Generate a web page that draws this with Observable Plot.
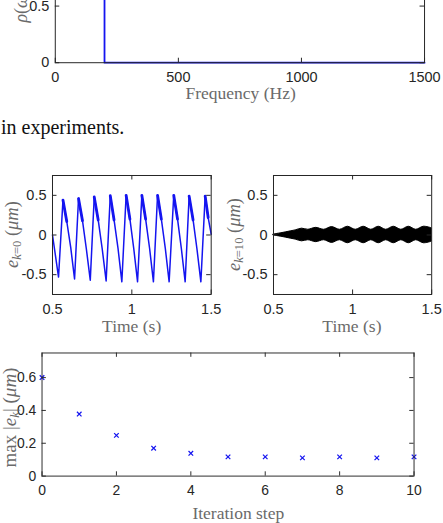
<!DOCTYPE html>
<html>
<head>
<meta charset="utf-8">
<script src="https://cdn.jsdelivr.net/npm/d3@7"></script>
<script src="https://cdn.jsdelivr.net/npm/@observablehq/plot@0.6"></script>
<style>
  body { margin: 0; background: #fff; }
  #fig { position: relative; width: 443px; height: 523px; overflow: hidden; background: #fff; }
  #fig > svg { position: absolute; }
</style>
</head>
<body>
<div id="fig"></div>
<script>
// ---- Weighting function rho(omega) ----
const freqHz = [0, 200, 200, 1500];
const rho = [1, 1, 0, 0];
const freqTicks = [0, 500, 1000, 1500];
const rhoTicks = [0, 0.5, 1];

// ---- Tracking error at iteration 0 (vertices of the trace) ----
const tK0 = [0.500, 0.538, 0.566, 0.590, 0.615, 0.639, 0.664, 0.689, 0.713, 0.738, 0.763, 0.788, 0.813,
             0.838, 0.864, 0.888, 0.913, 0.937, 0.964, 0.988, 1.012, 1.036, 1.063, 1.087, 1.112, 1.136,
             1.162, 1.186, 1.211, 1.235, 1.264, 1.288, 1.312, 1.336, 1.361, 1.386, 1.410, 1.435, 1.462,
             1.481, 1.500];
const eK0 = [0.00, -0.53, 0.44, 0.17, -0.16, -0.555, 0.46, 0.18, -0.17, -0.57, 0.48, 0.19, -0.17,
             -0.58, 0.495, 0.19, -0.17, -0.59, 0.50, 0.20, -0.17, -0.59, 0.50, 0.20, -0.17, -0.59,
             0.50, 0.20, -0.17, -0.59, 0.50, 0.20, -0.17, -0.59, 0.49, 0.19, -0.17, -0.59, 0.49,
             0.22, 0.01];

// ---- Tracking error at iteration 10 (envelope half-width) ----
const tK10 = [0.500, 0.520, 0.550, 0.580, 0.610, 0.640, 0.680, 0.720, 0.770, 0.820, 0.870, 0.920,
              0.970, 1.020, 1.070, 1.118, 1.165, 1.212, 1.260, 1.308, 1.355, 1.402, 1.450, 1.500];
const envK10 = [0.004, 0.012, 0.022, 0.034, 0.046, 0.058, 0.080, 0.066, 0.090, 0.066, 0.100, 0.066,
                0.104, 0.066, 0.104, 0.066, 0.104, 0.066, 0.104, 0.066, 0.104, 0.066, 0.104, 0.085];

const timeTicks = [0.5, 1, 1.5];
const errTicks = [-0.5, 0, 0.5];

// ---- Peak error per iteration ----
const iterStep = [0, 1, 2, 3, 4, 5, 6, 7, 8, 9, 10];
const maxErr = [0.60, 0.378, 0.248, 0.17, 0.139, 0.117, 0.117, 0.111, 0.117, 0.111, 0.117];
const iterTicks = [0, 2, 4, 6, 8, 10];
const maxTicks = [0, 0.2, 0.4, 0.6];

const AXIS = "#262626";
const LABEL = "#6a6a6a";
const BLUE = "#1414f0";
const SANS = "'Liberation Sans', Arial, Helvetica, sans-serif";
const SERIF = "'Liberation Serif', 'Times New Roman', serif";
const TICK = 4.5;
const fmt = d => String(d);

const fig = document.getElementById("fig");

// One boxed panel whose frame occupies [x0,x1] x [y0,y1] on the page
function panel({frame, xDomain, yDomain, xTicks, yTicks, marks}) {
  const [x0, x1, y0, y1] = frame;
  const ml = 60, mr = 14, mt = 12, mb = 46;
  const fw = x1 - x0, fh = y1 - y0;
  const chart = Plot.plot({
    width: fw + ml + mr, height: fh + mt + mb,
    marginLeft: ml, marginRight: mr, marginTop: mt, marginBottom: mb,
    x: {domain: xDomain},
    y: {domain: yDomain},
    style: {fontFamily: SANS, fontSize: "14px", color: AXIS, background: "transparent", overflow: "visible"},
    marks: [
      ...marks,
      Plot.ruleX(xTicks, {stroke: AXIS, insetTop: fh - TICK}),
      Plot.ruleX(xTicks, {stroke: AXIS, insetBottom: fh - TICK}),
      Plot.ruleY(yTicks, {stroke: AXIS, insetRight: fw - TICK}),
      Plot.ruleY(yTicks, {stroke: AXIS, insetLeft: fw - TICK}),
      Plot.frame({stroke: AXIS}),
      Plot.axisX(xTicks, {tickSize: 0, tickPadding: 9, label: null, tickFormat: fmt, fill: AXIS, fontSize: 14.5}),
      Plot.axisY(yTicks, {tickSize: 0, tickPadding: 6, label: null, tickFormat: fmt, fill: AXIS, fontSize: 14.5})
    ]
  });
  chart.style.position = "absolute";
  chart.style.left = (x0 - ml) + "px";
  chart.style.top = (y0 - mt) + "px";
  fig.append(chart);
  return {x0, x1, y0, y1, cx: (x0 + x1) / 2, cy: (y0 + y1) / 2};
}

// Panel A: weighting function
const A = panel({
  frame: [55.3, 426, -51, 62.7],
  xDomain: [0, 1500], yDomain: [0, 1],
  xTicks: freqTicks, yTicks: rhoTicks,
  marks: [
    Plot.line(freqHz.map((f, i) => ({f, r: rho[i]})), {x: "f", y: "r", stroke: BLUE, strokeWidth: 1.8})
  ]
});

// Panel B: error before learning
const k0 = tK0.map((t, i) => ({t, e: eK0[i]}));
// the high-frequency ripple thickens the trace just after each peak
const ripple = [];
k0.forEach((d, i) => {
  if (i > 0 && i < k0.length - 1 && d.e > k0[i - 1].e && d.e > k0[i + 1].e) {
    ripple.push({seg: i, t: d.t, e: d.e}, {seg: i, t: k0[i + 1].t, e: k0[i + 1].e});
  }
});
const B = panel({
  frame: [52.3, 211, 175, 294],
  xDomain: [0.5, 1.5], yDomain: [-0.75, 0.75],
  xTicks: timeTicks, yTicks: errTicks,
  marks: [
    Plot.line(k0, {x: "t", y: "e", stroke: BLUE, strokeWidth: 1.5}),
    Plot.line(ripple, {x: "t", y: "e", z: "seg", stroke: BLUE, strokeWidth: 2.8})
  ]
});

// Panel C: error after 10 iterations
const k10 = tK10.map((t, i) => ({t, lo: -envK10[i], hi: envK10[i]}));
const C = panel({
  frame: [272.8, 431, 175, 294],
  xDomain: [0.5, 1.5], yDomain: [-0.75, 0.75],
  xTicks: timeTicks, yTicks: errTicks,
  marks: [
    Plot.areaY(k10, {x: "t", y1: "lo", y2: "hi", fill: "#000", stroke: "#000", strokeWidth: 1, curve: "catmull-rom"})
  ]
});

// Panel D: convergence of the peak error
const D = panel({
  frame: [44.3, 432.3, 353.3, 481.7],
  xDomain: [0, 10], yDomain: [0, 0.75],
  xTicks: iterTicks, yTicks: maxTicks,
  marks: [
    Plot.dot(iterStep.map((k, i) => ({k, m: maxErr[i]})), {x: "k", y: "m", symbol: "times", r: 2.3, stroke: BLUE, strokeWidth: 1.3})
  ]
});

// ---- Text layer: axis titles and surrounding prose ----
const over = d3.select(fig).append("svg")
  .attr("width", 443).attr("height", 523)
  .style("position", "absolute").style("left", "0px").style("top", "0px")
  .style("pointer-events", "none");

function label({x, y, rotate = 0, size = 17.5, parts, fill = LABEL}) {
  const t = over.append("text")
    .attr("transform", `translate(${x},${y}) rotate(${rotate})`)
    .attr("text-anchor", "middle").attr("dominant-baseline", "central")
    .attr("font-family", SERIF).attr("font-size", size).attr("fill", fill);
  let shift = 0;
  for (const p of parts) {
    const s = t.append("tspan").text(p.text);
    if (p.italic) s.attr("font-style", "italic");
    const want = p.sub ? size * 0.28 : 0;
    if (want !== shift) { s.attr("dy", want - shift); shift = want; }
    if (p.sub) s.attr("font-size", size * 0.68);
  }
}

label({x: A.cx, y: 93, parts: [{text: "Frequency (Hz)"}]});
label({x: 21, y: A.cy, rotate: -90, size: 18, parts: [{text: "ρ", italic: true}, {text: "("}, {text: "ω", italic: true}, {text: ")"}]});

label({x: B.cx, y: 326, parts: [{text: "Time (s)"}]});
label({x: 12, y: B.cy, rotate: -90, size: 18.5, parts: [
  {text: "e", italic: true}, {text: "k", italic: true, sub: true}, {text: "=0", sub: true},
  {text: " ("}, {text: "μm", italic: true}, {text: ")"}]});

label({x: C.cx, y: 326, parts: [{text: "Time (s)"}]});
label({x: 234, y: C.cy, rotate: -90, size: 18.5, parts: [
  {text: "e", italic: true}, {text: "k", italic: true, sub: true}, {text: "=10", sub: true},
  {text: " ("}, {text: "μm", italic: true}, {text: ")"}]});

label({x: D.cx, y: 513, parts: [{text: "Iteration step"}]});
label({x: 9, y: D.cy, rotate: -90, size: 19, parts: [
  {text: "max |"}, {text: "e", italic: true}, {text: "k", italic: true, sub: true},
  {text: "| ("}, {text: "μm", italic: true}, {text: ")"}]});

over.append("text")
  .attr("x", 1).attr("y", 134)
  .attr("font-family", SERIF).attr("font-size", 20).attr("fill", "#111")
  .text("in experiments.");
</script>
</body>
</html>
